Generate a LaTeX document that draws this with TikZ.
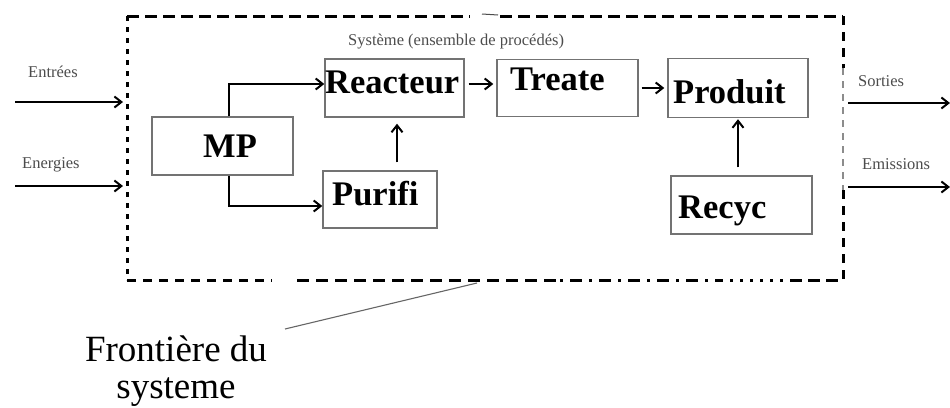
\documentclass[tikz,border=0pt]{standalone}
\usepackage{fontspec}
\setmainfont{Liberation Serif}
\usetikzlibrary{arrows.meta}
\tikzset{
  box/.style={draw=black!55, line width=1.4pt, rectangle, inner sep=0pt},
  boxtext/.style={font=\fontsize{34.5}{36}\selectfont\bfseries, anchor=base west, inner sep=0pt},
  lbl/.style={font=\fontsize{16.5}{18}\selectfont, text=black!70, anchor=base west, inner sep=0pt},
  arr/.style={line width=2pt, -{Straight Barb[length=7pt,width=11pt,line width=2pt]}},
  bound/.style={line width=3pt},
}
\begin{document}
\begin{tikzpicture}[x=1pt,y=-1pt]
\useasboundingbox (0,0) rectangle (950,407);

% system boundary (dashed frame)
\draw[bound, dash pattern=on 12pt off 6pt] (127,16) -- (470,16);
\draw[bound, dash pattern=on 12pt off 6pt] (500,16) -- (843,16);
\draw[line width=1pt, black!70] (482,14) -- (498,15);
\draw[bound, dash pattern=on 5pt off 6pt] (127,16) -- (127,280);
\draw[bound, dash pattern=on 9pt off 7pt] (127,280) -- (272,280);
\draw[bound, dash pattern=on 12pt off 7pt] (297,280) -- (560,280);
\draw[bound, dash pattern=on 3pt off 7pt on 12pt off 7pt] (560,280) -- (720,280);
\draw[bound, dash pattern=on 3pt off 7pt] (720,280) -- (790,280);
\draw[bound, dash pattern=on 12pt off 6pt] (790,280) -- (843,280);
\draw[bound, dash pattern=on 9pt off 7pt] (843,16) -- (843,68);
\draw[line width=1.6pt, black!45, dash pattern=on 7pt off 6pt] (843,68) -- (843,190);
\draw[bound, dash pattern=on 9pt off 7pt] (843,190) -- (843,280);

\node[lbl] (titre) at (348,45) {Système (ensemble de procédés)};

% process units
\node[box, minimum width=141pt, minimum height=58pt] (mp) at (222.5,146) {};
\node[box, minimum width=139pt, minimum height=58pt] (reacteur) at (394.5,88) {};
\node[box, minimum width=141pt, minimum height=57pt] (treate) at (567.5,88) {};
\node[box, minimum width=140pt, minimum height=59pt] (produit) at (738,88) {};
\node[box, minimum width=114pt, minimum height=57pt] (purifi) at (380,199.5) {};
\node[box, minimum width=141pt, minimum height=58pt] (recyc) at (741.5,205) {};

\node[boxtext] (tmp) at (203,157) {MP};
\node[boxtext] (treac) at (325,93) {Reacteur};
\node[boxtext] (ttreate) at (510,90) {Treate};
\node[boxtext] (tprod) at (673,103) {Produit};
\node[boxtext] (tpur) at (332,205) {Purifi};
\node[boxtext] (trec) at (678,218) {Recyc};

% internal flows
\draw[arr] ([xshift=6.5pt]mp.north) |- ([yshift=4pt]reacteur.west);
\draw[arr] ([xshift=6.5pt]mp.south) |- ([yshift=-6.5pt]purifi.west);
\draw[arr] ([xshift=17pt,yshift=8pt]purifi.north) -- ([xshift=2.5pt,yshift=-6pt]reacteur.south);
\draw[arr] ([xshift=4pt,yshift=4pt]reacteur.east) -- ([xshift=-3pt,yshift=4pt]treate.west);
\draw[arr] ([xshift=3pt]treate.east) -- ([xshift=-3pt]produit.west);
\draw[arr] ([xshift=-3.5pt,yshift=8pt]recyc.north) -- ([yshift=-1pt]produit.south);

% inputs and outputs across the boundary
\coordinate (inA) at (15,102);
\coordinate (inAend) at (123,102);
\coordinate (inB) at (15,186);
\coordinate (inBend) at (123,186);
\coordinate (outA) at (848,103);
\coordinate (outAend) at (950,103);
\coordinate (outB) at (848,187);
\coordinate (outBend) at (950,187);
\draw[arr] (inA) -- (inAend);
\draw[arr] (inB) -- (inBend);
\draw[arr] (outA) -- (outAend);
\draw[arr] (outB) -- (outBend);

\node[lbl] (entrees) at (28,77) {Entrées};
\node[lbl] (energies) at (22,168) {Energies};
\node[lbl] (sorties) at (858,86) {Sorties};
\node[lbl] (emissions) at (862,169) {Emissions};

% boundary callout
\node[font=\fontsize{37}{37}\selectfont, align=center, anchor=base, inner sep=0pt] (front) at (176,398) {Frontière du\\systeme};
\coordinate (frontpt) at (477,283);
\coordinate (frontstart) at (285,329);
\draw[line width=1.1pt, black!60] (frontstart) -- (frontpt);
\end{tikzpicture}
\end{document}
